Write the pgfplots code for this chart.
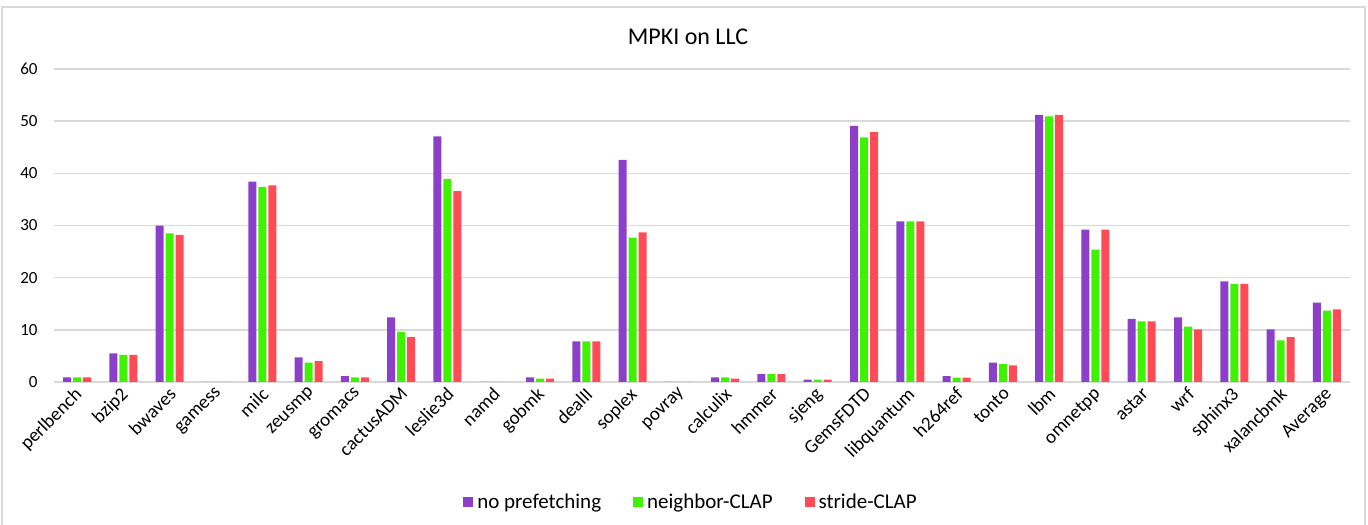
\documentclass[border=0pt]{standalone}
\usepackage{graphicx}
\usepackage{pgfplots}
\pgfplotsset{compat=1.18}
\usepackage{pgfplotstable}
\usepackage{fontspec}
\setmainfont{Carlito}
\definecolor{cPurple}{RGB}{140,64,202}
\definecolor{cGreen}{RGB}{62,242,0}
\definecolor{cRed}{RGB}{255,75,85}
\definecolor{gridgray}{RGB}{217,217,217}
\newcommand\R[1]{\rotatebox{45}{#1}}
\pgfplotstableread{
x a b c
0 0.9 0.9 0.9
1 5.5 5.2 5.2
2 30.0 28.5 28.2
3 0.0 0.0 0.0
4 38.4 37.4 37.7
5 4.7 3.7 4.0
6 1.15 0.9 0.9
7 12.4 9.6 8.6
8 47.1 38.9 36.6
9 0.0 0.0 0.0
10 0.9 0.65 0.65
11 7.8 7.8 7.8
12 42.6 27.7 28.7
13 0.0 0.0 0.0
14 0.9 0.9 0.65
15 1.5 1.5 1.5
16 0.45 0.45 0.45
17 49.1 46.9 47.9
18 30.8 30.8 30.8
19 1.15 0.85 0.85
20 3.7 3.45 3.2
21 51.2 50.9 51.2
22 29.2 25.4 29.2
23 12.1 11.6 11.6
24 12.4 10.6 10.1
25 19.3 18.8 18.8
26 10.1 8.0 8.6
27 15.2 13.7 13.9
}\mpki
\begin{document}
\begin{tikzpicture}
\useasboundingbox (0,0) rectangle (684pt,262pt);
\draw[gridgray, line width=0.8pt] (1pt,-3pt) -- (1pt,258.5pt) -- (682.5pt,258.5pt) -- (682.5pt,-3pt);
\node[font=\fontsize{12}{14}\selectfont] at (344pt,243.5pt) {MPKI on LLC};
\begin{axis}[
  at={(27pt,71pt)}, anchor=south west,
  scale only axis, width=648pt, height=156.5pt,
  xmin=-0.5, xmax=27.5, ymin=0, ymax=60,
  ytick={0,10,...,60},
  xtick=data,
  xticklabels={\R{perlbench},\R{bzip2},\R{bwaves},\R{gamess},\R{milc},\R{zeusmp},\R{gromacs},\R{cactusADM},\R{leslie3d},\R{namd},\R{gobmk},\R{dealII},\R{soplex},\R{povray},\R{calculix},\R{hmmer},\R{sjeng},\R{GemsFDTD},\R{libquantum},\R{h264ref},\R{tonto},\R{lbm},\R{omnetpp},\R{astar},\R{wrf},\R{sphinx3},\R{xalancbmk},\R{Average}},
  axis line style={draw=none},
  major tick length=0pt,
  ymajorgrids, grid style={gridgray, line width=0.8pt},
  /pgf/number format/assume math mode=true,
  yticklabel style={font=\fontsize{8.5}{10}\selectfont, inner sep=0pt, xshift=-8pt},
  xticklabel style={font=\fontsize{9.5}{11}\selectfont, anchor=north east, inner sep=0pt, xshift=4pt, yshift=-2pt},
  ybar=1pt, bar width=4pt,
  legend columns=-1,
  legend style={at={(0.4923,-0.385)}, anchor=center, draw=none, fill=none,
    font=\fontsize{10.5}{12}\selectfont,
    /tikz/every even column/.append style={column sep=14pt}},
  legend image code/.code={\fill[#1] (0pt,-2.5pt) rectangle (5pt,2.5pt);},
]
\addplot[fill=cPurple, draw=none] table[x=x,y=a] {\mpki};
\addplot[fill=cGreen, draw=none] table[x=x,y=b] {\mpki};
\addplot[fill=cRed, draw=none] table[x=x,y=c] {\mpki};
\legend{no prefetching,neighbor-CLAP,stride-CLAP}
\end{axis}
\end{tikzpicture}
\end{document}
